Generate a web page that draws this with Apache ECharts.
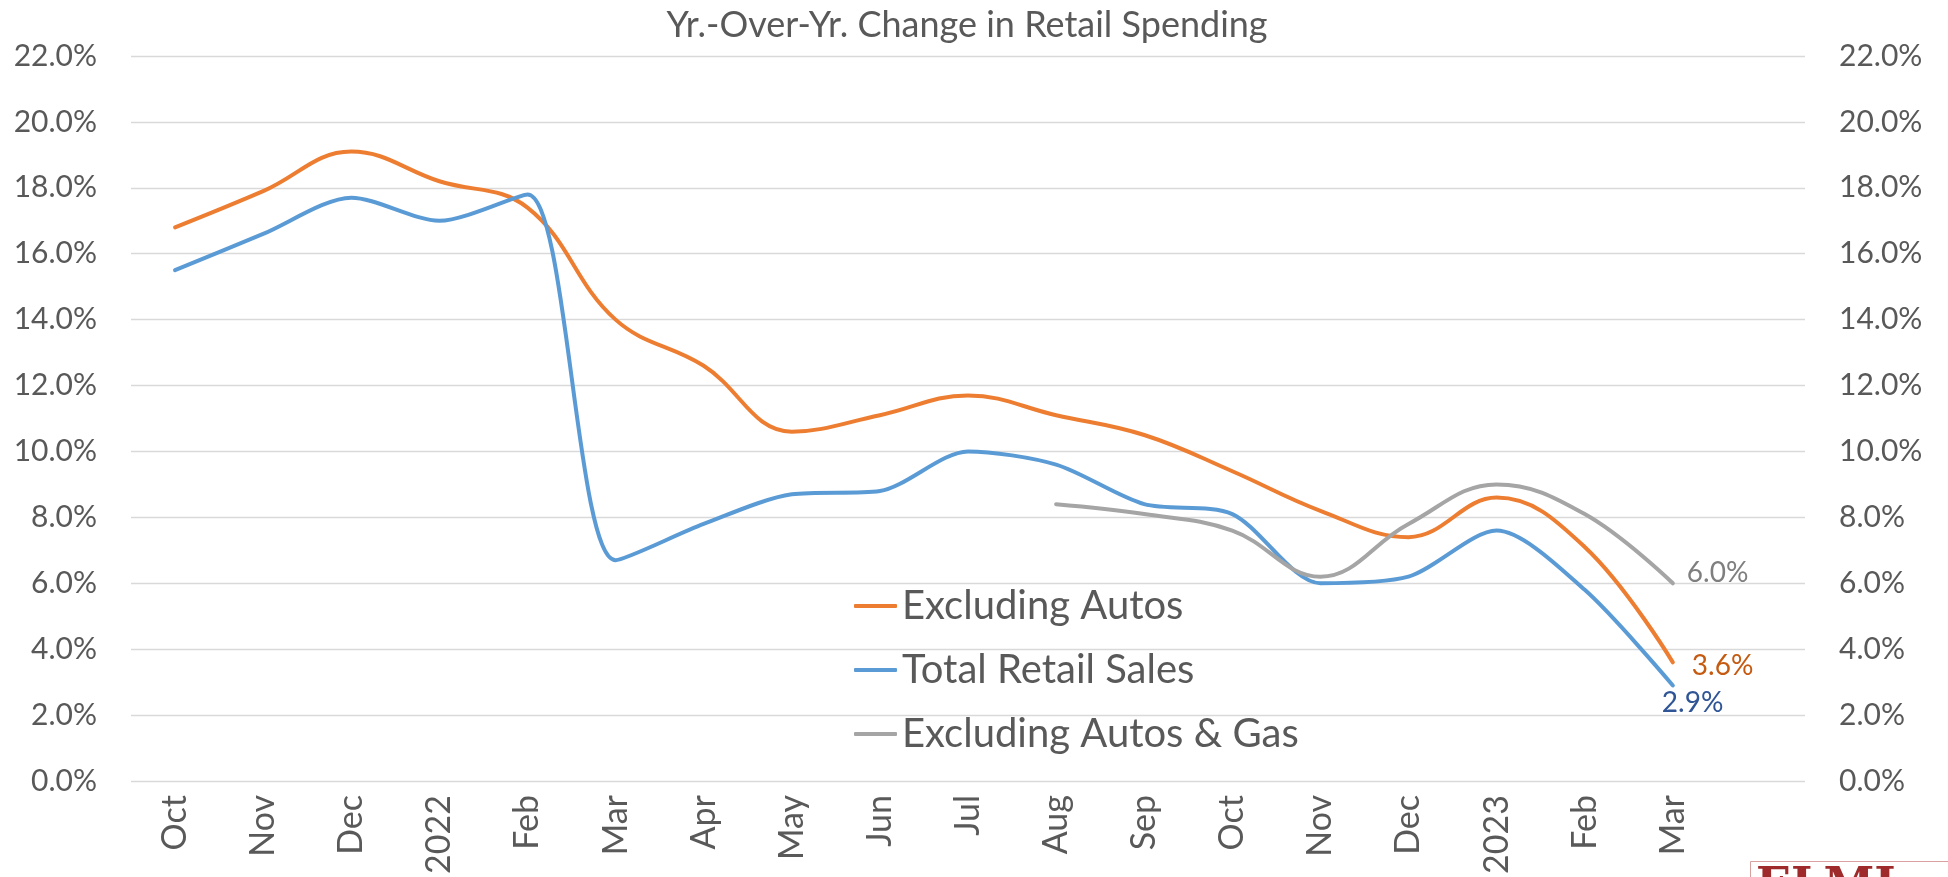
<!DOCTYPE html>
<html>
<head>
<meta charset="utf-8">
<title>Yr.-Over-Yr. Change in Retail Spending</title>
<script src="https://cdn.jsdelivr.net/npm/echarts@6/dist/echarts.min.js"></script>
<style>
  html, body { margin: 0; padding: 0; background: #fff; }
  #chart { width: 1948px; height: 877px; }
</style>
</head>
<body>
<div id="chart"></div>
<script>
// months, Oct 2021 .. Mar 2023 (last slot left blank, as in the original plot area)
const categories = ['Oct', 'Nov', 'Dec', '2022', 'Feb', 'Mar', 'Apr', 'May', 'Jun', 'Jul',
  'Aug', 'Sep', 'Oct', 'Nov', 'Dec', '2023', 'Feb', 'Mar', '']

// yoy change, %
const excludingAutos = [16.8, 17.9, 19.1, 18.2, 17.4, 14.0, 12.6, 10.6, 11.1, 11.7,
  11.1, 10.5, 9.4, 8.2, 7.4, 8.6, 7.1, 3.6]
const totalRetailSales = [15.5, 16.6, 17.7, 17.0, 17.8, 6.7, 7.8, 8.7, 8.8, 10.0,
  9.6, 8.4, 8.1, 6.0, 6.2, 7.6, 5.8, 2.9]
const excludingAutosGas = [null, null, null, null, null, null, null, null, null, null,
  8.4, 8.1, 7.6, 6.2, 7.8, 9.0, 8.1, 6.0]

const yTicks = { min: 0, max: 22, interval: 2 }

const FONT = 'Lato, "Open Sans", sans-serif'
const TEXT = '#595959'

const pct = v => v.toFixed(1) + '%'

// value label at the end of each line
const endLabel = (color, distance, offset) => ({
  show: true,
  formatter: p => pct(p.value),
  color: color,
  fontFamily: FONT,
  fontSize: 28,
  distance: distance,
  offset: offset
})

const chart = echarts.init(document.getElementById('chart'))

const yAxisBase = {
  type: 'value',
  min: yTicks.min,
  max: yTicks.max,
  interval: yTicks.interval,
  axisLine: { show: false },
  axisTick: { show: false },
  axisLabel: {
    formatter: v => pct(v),
    color: TEXT,
    fontFamily: FONT,
    fontSize: 30,
    margin: 34
  }
}

const option = {
  backgroundColor: '#fff',
  animation: false,
  title: {
    text: 'Yr.-Over-Yr. Change in Retail Spending',
    left: 962,
    top: 2,
    textAlign: 'center',
    textStyle: { color: TEXT, fontFamily: FONT, fontSize: 36, fontWeight: 'normal' }
  },
  legend: {
    orient: 'vertical',
    left: 849,
    top: 576,
    itemGap: 14,
    itemWidth: 43,
    itemHeight: 4,
    icon: 'roundRect',
    data: ['Excluding Autos', 'Total Retail Sales', 'Excluding Autos & Gas'],
    textStyle: { color: TEXT, fontFamily: FONT, fontSize: 40, lineHeight: 50 }
  },
  grid: {
    left: 131,
    right: 143,
    top: 56,
    bottom: 96
  },
  xAxis: {
    type: 'category',
    data: categories,
    boundaryGap: true,
    axisLine: { show: false },
    axisTick: { show: false },
    axisLabel: {
      rotate: 90,
      interval: 0,
      color: TEXT,
      fontFamily: FONT,
      fontSize: 34,
      margin: 14
    }
  },
  yAxis: [
    Object.assign({}, yAxisBase, {
      position: 'left',
      splitLine: { lineStyle: { color: '#d9d9d9', width: 1.3 } }
    }),
    Object.assign({}, yAxisBase, {
      position: 'right',
      splitLine: { show: false }
    })
  ],
  series: [
    {
      name: 'Excluding Autos',
      type: 'line',
      data: excludingAutos,
      smooth: 0.4,
      symbol: 'none',
      color: '#ed7d31',
      lineStyle: { width: 4, cap: 'round' },
      endLabel: endLabel('#c55a11', 19, [0, 4])
    },
    {
      name: 'Total Retail Sales',
      type: 'line',
      data: totalRetailSales,
      smooth: 0.28,
      symbol: 'none',
      color: '#5b9bd5',
      lineStyle: { width: 4, cap: 'round' },
      endLabel: endLabel('#2f5597', 0, [-11, 18])
    },
    {
      name: 'Excluding Autos & Gas',
      type: 'line',
      data: excludingAutosGas,
      smooth: 0.4,
      symbol: 'none',
      color: '#a5a5a5',
      lineStyle: { width: 4, cap: 'round' },
      endLabel: endLabel('#7f7f7f', 14, [0, -10])
    }
  ],
  // cropped logo in the bottom-right corner
  graphic: [
    {
      type: 'rect',
      left: 1750,
      top: 861,
      shape: { width: 210, height: 30 },
      style: { fill: '#fff', stroke: '#d9a0a0', lineWidth: 1 }
    },
    {
      type: 'text',
      left: 1756,
      top: 865,
      style: { text: 'ELMI', fill: '#9e2a2b', font: 'bold 46px "DejaVu Serif", serif' }
    }
  ]
}

chart.setOption(option)
</script>
</body>
</html>
